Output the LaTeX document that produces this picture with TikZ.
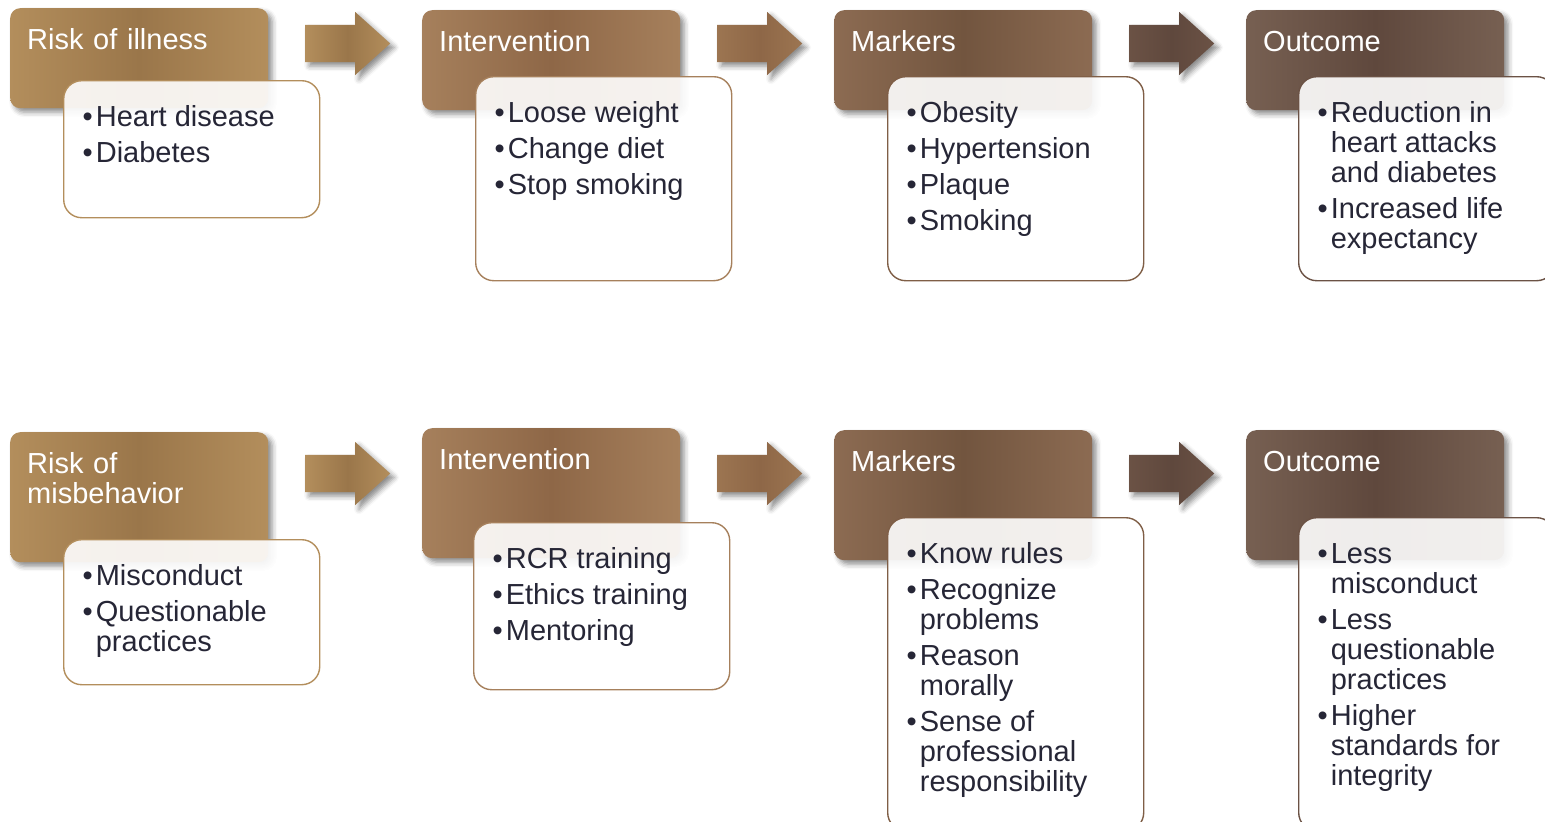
\documentclass[tikz,border=0pt]{standalone}
\usepackage{fontspec}
\setmainfont{Liberation Sans}
\usetikzlibrary{positioning,shapes.arrows,shadows.blur}
\definecolor{colA}{HTML}{A9844F}
\definecolor{colAd}{HTML}{9A764A}
\definecolor{colAl}{HTML}{B38E5C}
\definecolor{colB}{HTML}{9C7551}
\definecolor{colBd}{HTML}{8E6747}
\definecolor{colBl}{HTML}{A6805C}
\definecolor{colC}{HTML}{7F5E46}
\definecolor{colCd}{HTML}{72553F}
\definecolor{colCl}{HTML}{8C6B52}
\definecolor{colD}{HTML}{6B5245}
\definecolor{colDd}{HTML}{5F483D}
\definecolor{colDl}{HTML}{776052}
\definecolor{txt}{HTML}{262636}
\newcommand{\blist}[1]{\makebox[218pt][l]{\begin{tabular}[t]{@{}l@{\hspace{3pt}}l@{}}#1\end{tabular}}}

\begin{document}
\begin{tikzpicture}[x=1pt,y=-1pt,
    hdr/.style={anchor=north west,rounded corners=10pt,inner xsep=17pt,inner ysep=0pt,
        text width=224pt,align=left,text=white,text height=41pt,
        font=\fontsize{29}{30}\selectfont,
        blur shadow={shadow xshift=4pt,shadow yshift=-4pt,shadow blur radius=5pt,shadow opacity=45}},
    bodybox/.style={anchor=north west,draw=#1,line width=1.4pt,rounded corners=18pt,
        fill=white,fill opacity=.9,text opacity=1,text=txt,inner xsep=19pt,inner ysep=0pt,
        text height=46pt,font=\fontsize{29}{30}\selectfont},
    arr/.style={single arrow,anchor=west,inner xsep=0pt,inner ysep=18.5pt,minimum height=85pt,
        single arrow head extend=13pt,single arrow tip angle=84,
        blur shadow={shadow xshift=4pt,shadow yshift=-4pt,shadow blur radius=5pt,shadow opacity=45}},
    shA/.style={left color=colAl,right color=colAl,middle color=colAd},
    shB/.style={left color=colBl,right color=colBl,middle color=colBd},
    shC/.style={left color=colCl,right color=colCl,middle color=colCd},
    shD/.style={left color=colDl,right color=colDl,middle color=colDd}]
\useasboundingbox (0,0) rectangle (1545,822);
\clip (0,0) rectangle (1545,822);

\node[hdr,shA,text depth=59pt] (risk1) at (10,8)    {Risk of illness};
\node[hdr,shB,text depth=59pt] (int1)  at (422,10)  {Intervention};
\node[hdr,shC,text depth=59pt] (mark1) at (834,10)  {Markers};
\node[hdr,shD,text depth=59pt] (out1)  at (1246,10) {Outcome};

\node[hdr,shA,text depth=89pt] (risk2) at (10,432)   {Risk of\\misbehavior};
\node[hdr,shB,text depth=89pt] (int2)  at (422,428)  {Intervention};
\node[hdr,shC,text depth=89pt] (mark2) at (834,430)  {Markers};
\node[hdr,shD,text depth=89pt] (out2)  at (1246,430) {Outcome};

\foreach \y [count=\r] in {43.5,473.5}{
    \node[arr,shA] (arrA\r) at (305,\y)  {};
    \node[arr,left color=colB,right color=colB,middle color=colBd] (arrB\r) at (717,\y)  {};
    \node[arr,left color=colD,right color=colD,middle color=colDd] (arrC\r) at (1129,\y) {};
}

\node[bodybox=colAl,text depth=91pt] (riskb1) at (63,80)
    {\blist{\textbullet & Heart disease\\[6pt] \textbullet & Diabetes}};
\node[bodybox=colBl,text depth=158pt] (intb1) at (475,76)
    {\blist{\textbullet & Loose weight\\[6pt] \textbullet & Change diet\\[6pt] \textbullet & Stop smoking}};
\node[bodybox=colC,text depth=158pt] (markb1) at (887,76)
    {\blist{\textbullet & Obesity\\[6pt] \textbullet & Hypertension\\[6pt] \textbullet & Plaque\\[6pt] \textbullet & Smoking}};
\node[bodybox=colD,text depth=158pt] (outb1) at (1298,76)
    {\blist{\textbullet & Reduction in\\ & heart attacks\\ & and diabetes\\[6pt]
            \textbullet & Increased life\\ & expectancy}};

\node[bodybox=colAl,text depth=99pt] (riskb2) at (63,539)
    {\blist{\textbullet & Misconduct\\[6pt] \textbullet & Questionable\\ & practices}};
\node[bodybox=colBl,text depth=121pt] (intb2) at (473,522)
    {\blist{\textbullet & RCR training\\[6pt] \textbullet & Ethics training\\[6pt] \textbullet & Mentoring}};
\node[bodybox=colC,text depth=267pt] (markb2) at (887,517)
    {\blist{\textbullet & Know rules\\[6pt] \textbullet & Recognize\\ & problems\\[6pt]
            \textbullet & Reason\\ & morally\\[6pt] \textbullet & Sense of\\ & professional\\ & responsibility}};
\node[bodybox=colD,text depth=267pt] (outb2) at (1298,517)
    {\blist{\textbullet & Less\\ & misconduct\\[6pt] \textbullet & Less\\ & questionable\\ & practices\\[6pt]
            \textbullet & Higher\\ & standards for\\ & integrity}};
\end{tikzpicture}
\end{document}
